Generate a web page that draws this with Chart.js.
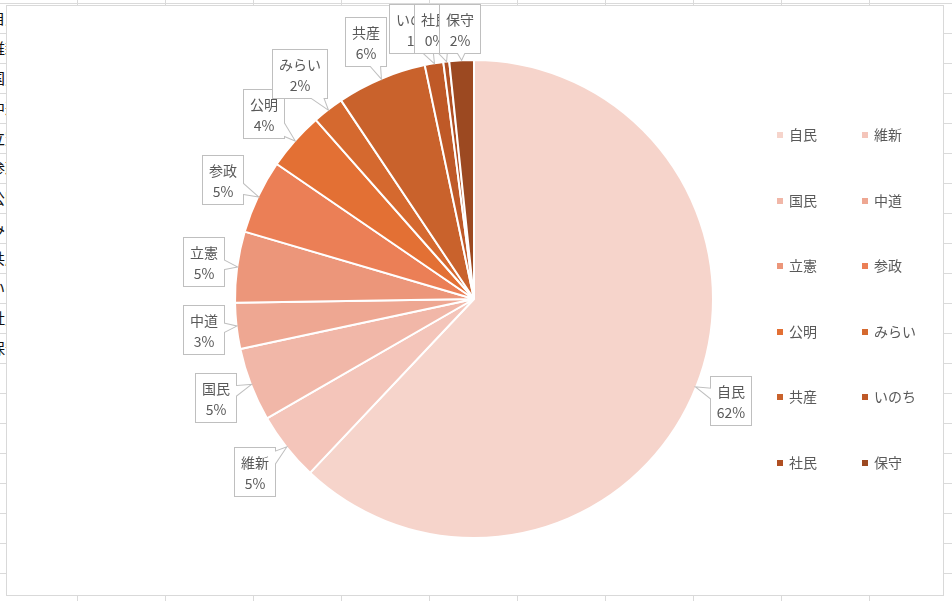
<!DOCTYPE html>
<html>
<head>
<meta charset="utf-8">
<script src="https://cdn.jsdelivr.net/npm/chart.js@4.4.1/dist/chart.umd.min.js"></script>
<style>
html,body{margin:0;padding:0;width:952px;height:601px;overflow:hidden;background:#fff;}
#sheet{position:absolute;left:0;top:0;width:952px;height:601px;
  background-image:linear-gradient(to right,#dadada 1px,transparent 1px),linear-gradient(to bottom,#dadada 1px,transparent 1px);
  background-size:88px 30px;background-position:77px 3px;}
#colA{position:absolute;left:0;top:0;width:6px;height:400px;overflow:hidden;font:15px "Noto Sans CJK JP",sans-serif;color:#111;}
#colA div{position:absolute;left:-10px;height:30px;line-height:30px;white-space:nowrap;}
#frame{position:absolute;left:6px;top:5px;width:938px;height:591px;box-sizing:border-box;background:#fff;border:1px solid #d9d9d9;}
canvas{position:absolute;left:0;top:0;}
</style>
</head>
<body>
<div id="sheet"></div>
<div id="colA"></div>
<div id="frame"></div>
<canvas id="c" width="952" height="601"></canvas>
<script>
// ---- data ----
const parties = ['自民','維新','国民','中道','立憲','参政','公明','みらい','共産','いのち','社民','保守'];
const shares  = [62.0, 4.64, 4.96, 3.1, 4.8, 5.0, 3.93, 2.13, 6.08, 1.25, 0.4, 1.65];
const colors  = ['#F6D4CB','#F4C5BA','#F1B7A8','#EEA792','#EC967A','#EB7F56','#E37034','#D5692F','#C9622C','#BF5927','#B04F22','#9C4921'];

// spreadsheet column A (clipped behind the chart)
const colA = document.getElementById('colA');
parties.forEach((p,i)=>{const d=document.createElement('div');d.textContent=p;d.style.top=(3+30*i)+'px';colA.appendChild(d);});

const TEXT = '#595959';
const FONT_FAMILY = '"Noto Sans CJK JP","Noto Sans",sans-serif';

const calloutPlugin = {
  id:'callouts',
  afterDatasetsDraw(chart){
    const ctx = chart.ctx;
    const meta = chart.getDatasetMeta(0);
    const vals = chart.data.datasets[0].data;
    const total = vals.reduce((a,b)=>a+b,0);
    ctx.save();
    ctx.font = '14px ' + FONT_FAMILY;
    const boxes = meta.data.map((arc,i)=>{
      const p = arc.getProps(['x','y','startAngle','endAngle','outerRadius'], true);
      const mid = (p.startAngle+p.endAngle)/2;
      const c = Math.cos(mid), s = Math.sin(mid);
      const name = chart.data.labels[i];
      const pct = Math.round(vals[i]/total*100)+'%';
      const tw = Math.max(ctx.measureText(name).width, ctx.measureText(pct).width);
      const w = Math.round(tw+12), h = 48;
      const ext = Math.abs(c)*w/2 + Math.abs(s)*h/2;
      const r = p.outerRadius + 10 + ext;
      return {cx:p.x+c*r, cy:p.y+s*r, w, h, name, pct,
              tip:[p.x+c*(p.outerRadius+1), p.y+s*(p.outerRadius+1)]};
    });
    // keep inside the chart frame
    boxes.forEach(b=>{ if(b.cy-b.h/2<5) b.cy=5+b.h/2; });
    // simple collision handling: push earlier overlapping labels to the left
    for(let i=boxes.length-2;i>=0;i--){
      const a=boxes[i], b=boxes[i+1];
      const ox = Math.abs(a.cx-b.cx) < (a.w+b.w)/2;
      const oy = Math.abs(a.cy-b.cy) < (a.h+b.h)/2;
      if(ox && oy){
        const maxLeft = (b.cx-b.w/2) - 25;
        if(a.cx-a.w/2 > maxLeft) a.cx = maxLeft + a.w/2;
      }
    }
    boxes.forEach(b=>{
      const L = Math.round(b.cx-b.w/2), T = Math.round(b.cy-b.h/2);
      const W = b.w, H = b.h;
      const cx = L+W/2, cy = T+H/2;
      const dx = b.tip[0]-cx, dy = b.tip[1]-cy;
      const len = Math.hypot(dx,dy);
      const ux = dx/len, uy = dy/len;
      const tx = ux!==0 ? (W/2)/Math.abs(ux) : Infinity;
      const ty = uy!==0 ? (H/2)/Math.abs(uy) : Infinity;
      const te = Math.min(tx,ty);
      const qx = cx+ux*(te-5), qy = cy+uy*(te-5);
      const px = -uy, py = ux;
      const tri = [[b.tip[0],b.tip[1]],[qx+px*6,qy+py*6],[qx-px*6,qy-py*6]];
      const pathTri = ()=>{ctx.beginPath();ctx.moveTo(tri[0][0],tri[0][1]);ctx.lineTo(tri[1][0],tri[1][1]);ctx.lineTo(tri[2][0],tri[2][1]);ctx.closePath();};
      const showPointer = te < len;
      ctx.lineWidth = 2; ctx.strokeStyle = '#BFBFBF'; ctx.fillStyle = '#fff';
      ctx.strokeRect(L,T,W,H);
      if(showPointer){ pathTri(); ctx.stroke(); }
      ctx.fillRect(L,T,W,H);
      if(showPointer){ pathTri(); ctx.fill(); }
      ctx.fillStyle = TEXT;
      ctx.textAlign='center'; ctx.textBaseline='middle';
      ctx.font = '14px ' + FONT_FAMILY;
      ctx.fillText(b.name, cx, cy-9);
      ctx.fillText(b.pct, cx, cy+12);
    });
    ctx.restore();
  }
};

const legendPlugin = {
  id:'gridLegend',
  afterDraw(chart){
    const ctx = chart.ctx;
    const labels = chart.data.labels;
    const cols = chart.data.datasets[0].backgroundColor;
    ctx.save();
    ctx.font = '14px ' + FONT_FAMILY;
    ctx.textBaseline = 'middle'; ctx.textAlign='left';
    labels.forEach((lab,i)=>{
      const col = i%2, row = Math.floor(i/2);
      const x = 777 + col*85, y = 135 + row*65.5;
      ctx.fillStyle = cols[i];
      ctx.fillRect(x, Math.round(y-3), 6, 6);
      ctx.fillStyle = TEXT;
      ctx.fillText(lab, x+12, y);
    });
    ctx.restore();
  }
};

new Chart(document.getElementById('c'), {
  type:'pie',
  data:{
    labels: parties,
    datasets:[{data: shares, backgroundColor: colors, borderColor:'#ffffff', borderWidth:2}]
  },
  options:{
    responsive:false,
    animation:false,
    layout:{padding:{left:234,right:238,top:59,bottom:62}},
    plugins:{legend:{display:false}, tooltip:{enabled:false}}
  },
  plugins:[calloutPlugin, legendPlugin]
});
</script>
</body>
</html>
